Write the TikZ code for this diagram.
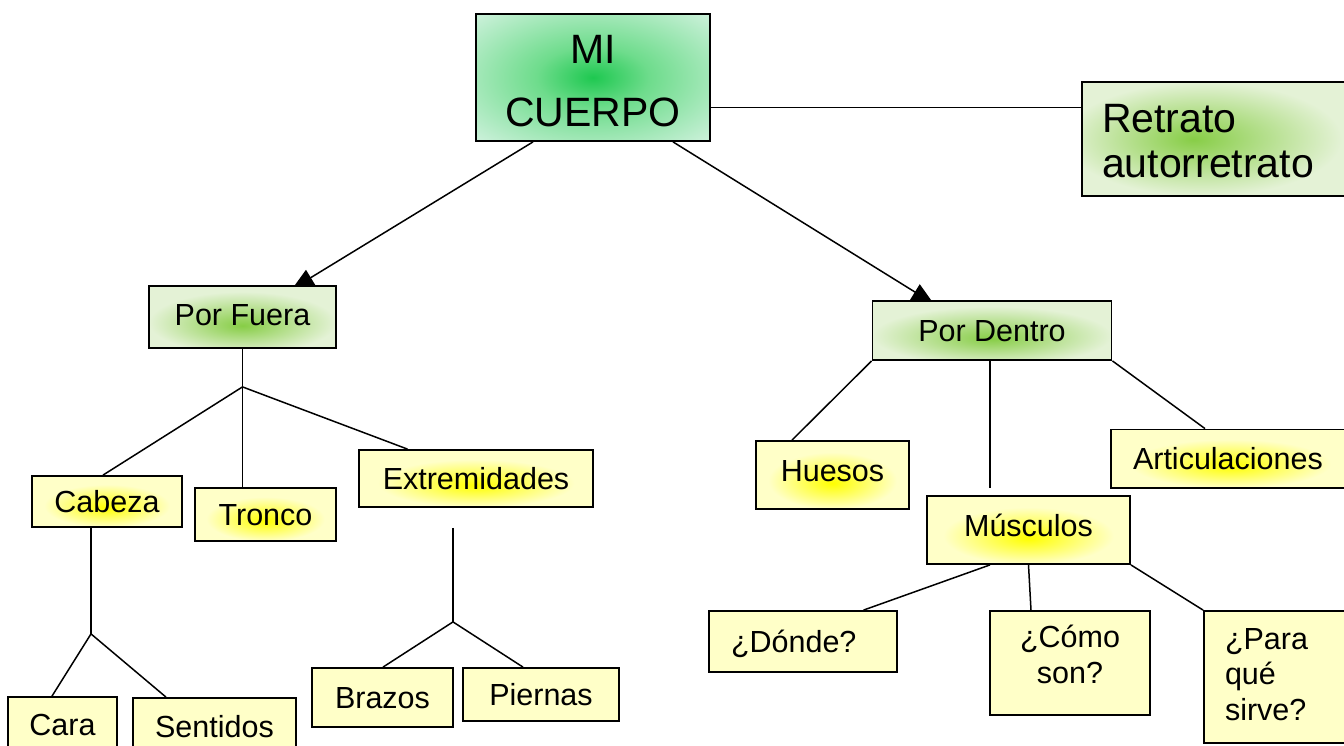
\documentclass[tikz,border=0pt]{standalone}
\usepackage{fontspec}
\setmainfont{Liberation Sans}
\usetikzlibrary{arrows.meta,backgrounds}
\definecolor{mintbase}{RGB}{200,240,215}
\definecolor{mintmid}{RGB}{110,220,140}
\definecolor{mintglow}{RGB}{30,200,80}
\definecolor{gbase}{RGB}{228,242,214}
\definecolor{gglow}{RGB}{135,205,70}
\definecolor{ybase}{RGB}{255,255,200}
\definecolor{yglow}{RGB}{255,255,0}
\pgfdeclareradialshading{mishade}{\pgfpoint{0bp}{0bp}}{color(0bp)=(mintglow); color(12bp)=(mintmid); color(34bp)=(mintbase); color(70bp)=(mintbase)}
\pgfdeclareradialshading{gshade}{\pgfpoint{0bp}{-7bp}}{color(0bp)=(gglow); color(25bp)=(gbase); color(70bp)=(gbase)}
\pgfdeclareradialshading{rshade}{\pgfpoint{-5bp}{0bp}}{color(0bp)=(gglow); color(25bp)=(gbase); color(70bp)=(gbase)}
\pgfdeclareradialshading{yshade}{\pgfpoint{0bp}{-6bp}}{color(0bp)=(yglow); color(21bp)=(ybase); color(70bp)=(ybase)}
\begin{document}
\begin{tikzpicture}[x=1pt,y=-1pt,
  frame/.style={draw=black,line width=1.8pt,inner sep=0pt},
  box/.style={frame,font=\fontsize{30.5}{36}\selectfont,text height=22pt,text depth=0pt},
  mbox/.style={frame,font=\fontsize{30.5}{35.5}\selectfont},
  ybox/.style={fill=ybase},
  yglow/.style={shading=yshade},
  gglowbox/.style={shading=gshade},
  edge/.style={line width=1.5pt,draw=black},
  arr/.style={edge,-{Triangle[length=22pt,width=18pt]}}]
\useasboundingbox (0,0) rectangle (1344,745);
\clip (0,0) rectangle (1344,745);
% nodes
\node[frame,shading=mishade,minimum width=234pt,minimum height=127pt,align=center,font=\fontsize{41}{63}\selectfont] (mi) at (593,77.5) {\rule{0pt}{35.5pt}MI\\CUERPO};
\node[frame,shading=rshade,minimum width=278pt,minimum height=114pt,text width=238pt,align=left,font=\fontsize{41}{45}\selectfont] (ret) at (1221,139) {\rule{0pt}{32.5pt}Retrato\\autorretrato};
\node[box,gglowbox,minimum width=187pt,minimum height=62pt,text depth=6pt] (pf) at (242.5,317) {Por Fuera};
\node[box,gglowbox,minimum width=239pt,minimum height=59pt] (pd) at (992,330.5) {Por Dentro};
\node[box,yglow,minimum width=150pt,minimum height=51pt] (cab) at (107,501.5) {Cabeza};
\node[box,yglow,minimum width=141pt,minimum height=53pt] (tr) at (265.5,514.5) {Tronco};
\node[box,yglow,minimum width=234pt,minimum height=57pt] (ext) at (476,478.5) {Extremidades};
\node[box,ybox,minimum width=109pt,minimum height=54pt] (cara) at (62.5,724) {Cara};
\node[box,ybox,minimum width=163pt,minimum height=56pt] (sent) at (214.5,726) {Sentidos};
\node[box,ybox,minimum width=141pt,minimum height=59pt] (braz) at (382.5,697.5) {Brazos};
\node[box,ybox,minimum width=156pt,minimum height=53pt] (pier) at (541,694.5) {Piernas};
\node[box,yglow,minimum width=153pt,minimum height=68pt,text depth=10pt] (hue) at (832.5,475) {Huesos};
\node[box,yglow,minimum width=239pt,minimum height=58.5pt,text width=195pt,align=left] (art) at (1230.5,458.75) {Articulaciones};
\node[box,yglow,minimum width=203pt,minimum height=68pt,text depth=10pt] (mus) at (1028.5,530) {Músculos};
\node[box,ybox,minimum width=188pt,minimum height=61pt,text width=144pt,align=left] (don) at (803,641.5) {¿Dónde?};
\node[mbox,ybox,minimum width=160pt,minimum height=104pt,align=center] (como) at (1070,663) {¿Cómo\\son?\rule[-17pt]{0pt}{17pt}};
\node[mbox,ybox,minimum width=156pt,minimum height=132pt,text width=114pt,align=left] (para) at (1282,677) {¿Para\\qué\\sirve?\rule[-6pt]{0pt}{6pt}};
% connectors
\begin{scope}[on background layer]
\fill[white] (0,0) rectangle (1344,745);
\draw[edge] ([yshift=-30pt]mi.east) -- ([yshift=-30pt]mi.east -| ret.west);
\draw[arr] ([xshift=-60pt]mi.south) -- ([xshift=49.5pt,yshift=-4pt]pf.north);
\draw[arr] ([xshift=80pt]mi.south) -- ([xshift=-58.4pt,yshift=-3.5pt]pd.north);
% Por Fuera
\coordinate (j1) at ([yshift=-38pt]pf.south);
\draw[edge] (pf.south) -- (j1);
\draw[edge] (j1) -- ([xshift=-4pt]cab.north);
\draw[edge] (j1) -- (j1 |- tr.north);
\draw[edge] (j1) -- ([xshift=-68.5pt]ext.north);
% Cabeza
\coordinate (j2) at ([xshift=-16pt,yshift=-106pt]cab.south);
\draw[edge] ([xshift=-16pt]cab.south) -- (j2);
\draw[edge] (j2) -- ([xshift=-10.5pt]cara.north);
\draw[edge] (j2) -- ([xshift=-48.5pt]sent.north);
% Extremidades
\coordinate (e1) at ([xshift=-23pt,yshift=-20pt]ext.south);
\coordinate (j3) at ([xshift=-23pt,yshift=-114pt]ext.south);
\draw[edge] (e1) -- (j3);
\draw[edge] (j3) -- ([xshift=0.5pt]braz.north);
\draw[edge] (j3) -- ([xshift=-18pt]pier.north);
% Por Dentro
\draw[edge] (pd.south west) -- ([xshift=-40.5pt]hue.north);
\draw[edge] ([xshift=-2pt]pd.south) -- ([xshift=-38.5pt,yshift=7pt]mus.north);
\draw[edge] (pd.south east) -- ([xshift=-25.5pt]art.north);
% Musculos
\draw[edge] ([xshift=-38.5pt]mus.south) -- ([xshift=60.5pt]don.north);
\draw[edge] (mus.south) -- ([xshift=-39pt]como.north);
\draw[edge] (mus.south east) -- (para.north west);
\end{scope}
\end{tikzpicture}
\end{document}
